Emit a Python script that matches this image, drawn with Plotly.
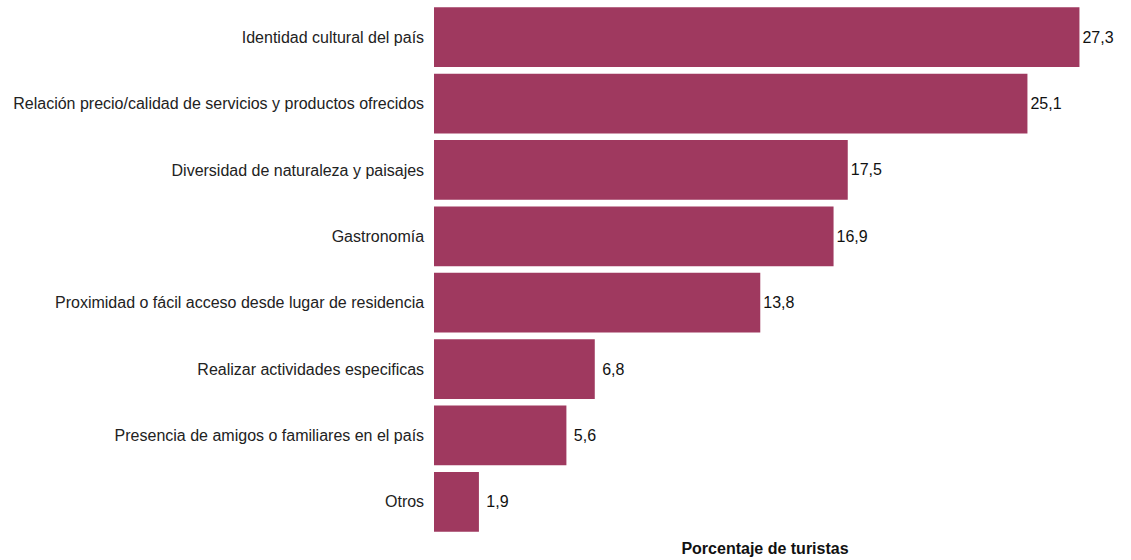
import plotly.graph_objects as go

categories = [
    "Identidad cultural del país",
    "Relación precio/calidad de servicios y productos ofrecidos",
    "Diversidad de naturaleza y paisajes",
    "Gastronomía",
    "Proximidad o fácil acceso desde lugar de residencia",
    "Realizar actividades especificas",
    "Presencia de amigos o familiares en el país",
    "Otros",
]
values = [27.3, 25.1, 17.5, 16.9, 13.8, 6.8, 5.6, 1.9]
value_labels = ["27,3", "25,1", "17,5", "16,9", "13,8", "6,8", "5,6", "1,9"]

# centre short labels in the same slot as the 4-character ones
display_labels = [("\u00a0" + t) if len(t) < 4 else t for t in value_labels]

fig = go.Figure(go.Bar(
    x=values,
    y=categories,
    orientation="h",
    marker=dict(color="#9F395F", line=dict(width=0)),
    text=display_labels,
    textposition="outside",
    textfont=dict(size=16, color="#111111"),
    cliponaxis=False,
    hoverinfo="skip",
))

fig.update_layout(
    width=1131,
    height=560,
    margin=dict(l=434, r=35, t=4, b=25),
    plot_bgcolor="white",
    paper_bgcolor="white",
    font=dict(family="Liberation Sans, Arial, sans-serif", size=16, color="#222222"),
    bargap=0.1,
    separators=",.",
    showlegend=False,
)
fig.update_xaxes(
    range=[0, 28],
    showgrid=False,
    zeroline=False,
    showticklabels=False,
    ticks="",
    showline=False,
    title=dict(text="<b>Porcentaje de turistas</b>", font=dict(size=16, color="#111111"), standoff=7),
)
fig.update_yaxes(
    autorange="reversed",
    showgrid=False,
    zeroline=False,
    ticks="",
    showline=False,
    ticksuffix="  ",
    tickfont=dict(size=16, color="#222222"),
)

fig.write_html("out.html", config={"displayModeBar": False},
               post_script="document.body.style.margin='0px';")
